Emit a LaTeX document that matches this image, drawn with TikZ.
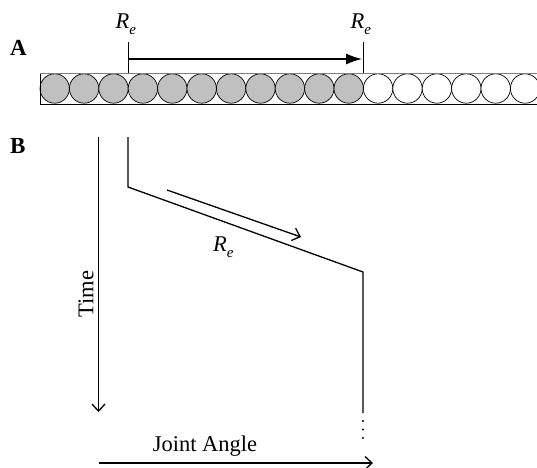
\documentclass[tikz,border=0pt]{standalone}
\usepackage{fontspec}
\setmainfont{Liberation Serif}
\usetikzlibrary{arrows.meta}
\newcommand{\Rsub}{{\itshape R\raisebox{-6pt}{\fontsize{15}{15}\selectfont e}}}
\definecolor{cellgray}{RGB}{192,192,192}
\tikzset{
  lbl/.style={inner sep=0pt, font=\fontsize{22.5}{25}\selectfont},
  panel/.style={inner sep=0pt, font=\fontsize{23}{25}\selectfont\bfseries},
  axis/.style={line width=1.3pt, -{Straight Barb[length=7pt,width=13pt,line width=1.3pt]}},
  plainline/.style={line width=1.3pt},
  bigarrow/.style={line width=1.2pt, -{Latex[length=16pt,width=11pt]}},
  cell/.style={draw=black, line width=0.7pt},
}
\begin{document}
\begin{tikzpicture}[x=1pt,y=-1pt]
\useasboundingbox (0,0) rectangle (537,467);
\clip (0,0) rectangle (537,467);
% panel letters
\node[panel, anchor=base west] (pA) at (10,55) {A};
\node[panel, anchor=base west] (pB) at (10,153) {B};
% bar of cells
\fill[white] (40,73) rectangle (560,104);
\foreach \i in {0,...,17}{
  \pgfmathsetmacro{\cx}{40+14.7+\i*29.4}
  \ifnum\i<11
    \draw[cell, fill=cellgray] (\cx,88.5) circle (14.7);
  \else
    \draw[cell, fill=white] (\cx,88.5) circle (14.7);
  \fi
}
\draw[line width=0.7pt] (40,73) rectangle (560,104);
\draw[line width=1.4pt, gray] (40,73.3) -- (560,73.3);
% ticks and top arrow
\coordinate (t1b) at (128,73);
\coordinate (t1t) at (128,41.5);
\coordinate (t2b) at (363,73);
\coordinate (t2t) at (363,41.5);
\draw[line width=1pt] (t1b) -- (t1t);
\draw[line width=1pt] (t2b) -- (t2t);
\coordinate (a1) at (128,59);
\coordinate (a2) at (362,59);
\draw[bigarrow] (a1) -- (a2);
\node[lbl, anchor=base west] (re1) at (115.5,28) {\Rsub};
\node[lbl, anchor=base west] (re2) at (350.5,28) {\Rsub};
% panel B
\coordinate (tA) at (98.5,137);
\coordinate (tB) at (98.5,412);
\draw[axis] (tA) -- (tB);
\node[lbl, rotate=90, anchor=base] (time) at (93.3,294) {Time};
\coordinate (p1) at (128,137);
\coordinate (p2) at (128,187);
\coordinate (p3) at (363,272);
\coordinate (p4) at (363,413);
\draw[plainline] (p1) -- (p2) -- (p3) -- (p4);
\coordinate (r1) at (167,190);
\coordinate (r2) at (301,237);
\draw[axis] (r1) -- (r2);
\node[lbl, anchor=base west] (re3) at (213,251.7) {\Rsub};
\foreach \yy in {421,429.5,438}{\fill (363,\yy) circle (1.1);}
\coordinate (jA) at (99,463);
\coordinate (jB) at (373,463);
\draw[axis] (jA) -- (jB);
\node[lbl, anchor=base] (ja) at (205,451.7) {Joint Angle};
\end{tikzpicture}
\end{document}
